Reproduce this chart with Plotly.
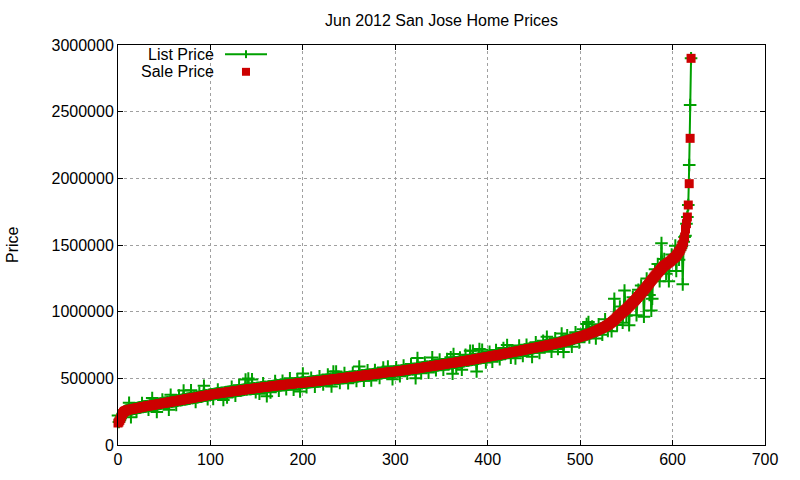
import plotly.graph_objects as go

# sale prices in thousands, sorted ascending (one per home, index = x)
sale_k = [
    165,172,185,200,218,235,246,252,256,259,262,263,265,266,268,269,270,272,273,275,
    276,277,279,280,282,283,285,286,288,289,290,291,293,294,295,296,298,299,300,302,
    303,304,305,306,308,309,310,311,312,314,315,316,317,318,320,321,322,323,325,326,
    328,329,330,331,332,334,335,336,337,338,340,341,342,343,345,346,347,348,350,351,
    352,353,355,356,357,358,359,360,362,363,365,366,367,368,370,371,372,373,375,376,
    378,379,380,381,382,383,384,385,386,387,388,389,390,391,392,393,394,395,396,397,
    398,399,400,401,402,403,404,405,406,407,408,409,410,411,412,413,414,415,416,417,
    418,419,420,421,421,422,423,424,425,426,427,428,429,430,430,431,432,433,434,435,
    435,436,437,438,439,440,440,441,442,443,444,445,446,447,448,449,449,450,451,452,
    452,453,454,455,455,456,457,458,459,459,460,461,462,462,463,464,464,465,466,466,
    466,467,468,469,469,470,471,472,473,474,475,475,476,477,478,479,479,480,481,482,
    482,483,484,485,486,487,488,489,489,490,491,492,493,494,495,495,496,497,498,499,
    500,501,502,503,503,504,505,506,507,508,509,510,510,511,512,513,514,514,515,515,
    516,517,518,519,520,521,522,523,524,525,525,526,527,528,529,530,531,532,533,533,
    534,535,536,537,538,539,540,541,542,543,544,545,545,546,547,548,549,549,550,550,
    551,552,553,554,555,556,557,558,559,560,561,562,563,564,565,566,567,568,569,569,
    570,571,572,573,575,576,577,578,579,580,581,582,583,585,586,587,588,589,590,591,
    592,593,594,595,596,598,599,600,601,602,603,604,605,606,608,609,610,611,612,612,
    613,614,615,616,618,619,620,621,622,624,625,626,627,628,629,630,631,632,634,635,
    636,637,638,640,641,642,643,645,646,647,648,650,651,652,654,655,656,658,659,660,
    662,663,664,665,667,668,669,670,672,673,674,675,677,678,679,680,682,683,685,686,
    688,689,690,692,693,694,696,697,698,700,701,702,703,705,706,707,709,710,712,713,
    715,716,717,719,720,721,723,724,725,727,728,729,731,732,733,735,736,737,739,740,
    742,743,745,746,748,749,750,752,753,755,756,758,759,761,762,764,765,767,769,770,
    772,773,775,777,779,781,783,785,787,789,791,793,795,797,799,801,803,805,807,810,
    812,814,816,818,820,823,825,828,830,833,836,838,841,844,847,849,852,855,858,861,
    865,868,871,874,877,881,884,888,892,896,900,905,910,915,920,926,932,938,944,952,
    960,966,972,978,984,990,996,1002,1008,1014,1020,1027,1034,1041,1048,1055,1062,1069,1076,1083,
    1090,1098,1106,1114,1122,1130,1138,1146,1154,1162,1170,1179,1188,1197,1206,1215,1224,1233,1242,1251,
    1260,1268,1276,1284,1292,1300,1308,1316,1324,1332,1340,1345,1350,1355,1360,1365,1370,1375,1380,1388,
    1395,1400,1405,1410,1420,1430,1440,1450,1460,1475,1490,1505,1525,1560,1620,1660,1710,1800,1960,2300,2900,
]

# homes whose list price visibly differs from the sale price (index, list - sale in thousands)
diff_idx = [0,12,14,20,26,33,37,42,48,55,57,63,66,71,79,84,88,93,97,103,108,114,118,123,127,131,
            138,141,145,149,153,157,161,165,170,174,178,182,186,190,194,197,200,204,209,213,218,222,
            227,231,233,236,240,245,249,254,258,261,266,270,274,278,283,287,292,297,301,305,309,313,
            317,322,324,328,332,336,340,344,348,352,356,360,362,363,366,370,372,376,381,384,388,391,
            394,398,402,405,409,413,417,421,425,430,434,438,442,448,452,456,460,464,469,473,476,480,
            482,486,491,495,499,503,507,509,510,513,517,520,524,527,530,534,537,540,543,546,548,550,
            553,557,561,563,566,569,572,575,577,578,581,584,586,588,591,593,596,599,603,604,607,611,
            614,618,619]
diff_k = [56,52,-60,-25,30,-30,53,-58,28,-56,54,-30,35,68,60,-35,30,76,-30,-35,30,-55,-40,35,-35,40,
          75,80,70,-30,-45,30,-70,-45,35,-40,30,-35,44,-45,30,-63,70,-35,30,-40,35,-30,
          40,-53,57,55,-35,35,-45,30,-35,71,-40,35,-45,30,-35,40,43,-55,30,-40,35,-30,
          40,-71,77,-40,35,-45,65,-35,40,-40,35,45,-81,67,-40,30,-62,45,70,65,-95,70,
          60,-40,35,-43,40,-35,45,61,-40,-51,40,-45,35,-64,40,-45,40,64,-55,40,-45,64,
          -77,40,-56,45,-40,50,80,90,-30,45,-56,40,-50,55,-45,-66,159,-60,60,-79,151,-50,
          -142,40,-125,50,58,-200,60,-90,-225,-145,50,65,-80,190,50,-70,-141,40,85,-115,-60,-300,
          -50,140,250]

homes = list(range(len(sale_k)))
sale_price = [v * 1000 for v in sale_k]
list_price = list(sale_price)
for i, d in zip(diff_idx, diff_k):
    list_price[i] = sale_price[i] + d * 1000

green = '#00a000'
red = '#cc0000'
fnt = 'Liberation Sans, Arial, sans-serif'

fig = go.Figure()
fig.add_trace(go.Scatter(
    x=homes, y=list_price, mode='lines+markers', name='List Price',
    line=dict(color=green, width=2),
    marker=dict(symbol='cross-thin', size=9, line=dict(color=green, width=2)),
    cliponaxis=False,
))
fig.add_trace(go.Scatter(
    x=homes, y=sale_price, mode='markers', name='Sale Price',
    marker=dict(symbol='square', size=9, color=red, line=dict(width=0)),
    cliponaxis=False,
))

# gnuplot style key: text right aligned, sample to the right
key_text_x = 0.1515
key_sample = (0.1654, 0.2303)
key_mid = 0.1978
key_y = [0.977, 0.933]
dx, dy = 0.0062, 0.0099
shapes = [
    dict(type='line', xref='paper', yref='paper', x0=key_sample[0], x1=key_sample[1], y0=key_y[0], y1=key_y[0],
         line=dict(color=green, width=2)),
    dict(type='line', xref='paper', yref='paper', x0=key_mid, x1=key_mid, y0=key_y[0] - dy, y1=key_y[0] + dy,
         line=dict(color=green, width=2)),
    dict(type='rect', xref='paper', yref='paper', x0=key_mid - dx, x1=key_mid + dx, y0=key_y[1] - dy, y1=key_y[1] + dy,
         fillcolor=red, line=dict(width=0)),
]
annotations = [
    dict(text=t, xref='paper', yref='paper', x=key_text_x, y=yy, xanchor='right', yanchor='middle',
         height=15, showarrow=False, font=dict(family=fnt, size=16, color='black'))
    for t, yy in zip(['List Price', 'Sale Price'], key_y)
]
annotations.append(dict(text='Price', xref='paper', yref='paper', x=-0.1638, y=0.5, textangle=-90,
                        xanchor='center', yanchor='middle', showarrow=False,
                        font=dict(family=fnt, size=16, color='black')))

axis_common = dict(
    showline=True, linecolor='black', linewidth=1, mirror='allticks',
    ticks='inside', ticklen=5, tickcolor='black', tickwidth=1,
    showgrid=True, gridcolor='#a0a0a0', gridwidth=1, griddash='dot',
    zeroline=False, tickfont=dict(family=fnt, size=16, color='black'),
)

fig.update_layout(
    width=800, height=480,
    margin=dict(l=118, r=35, t=45, b=31),
    paper_bgcolor='white', plot_bgcolor='white',
    showlegend=False,
    title=dict(text='Jun 2012 San Jose Home Prices', x=0.5, xref='paper', xanchor='center',
               y=0.958, yanchor='middle', yref='container',
               font=dict(family=fnt, size=16, color='black')),
    xaxis=dict(range=[0, 700], dtick=100, tick0=0, **axis_common),
    yaxis=dict(range=[0, 3000000], dtick=500000, tick0=0, tickformat='d', **axis_common),
    shapes=shapes,
    annotations=annotations,
)

# drop the default body margin so the 800x480 figure fills the window
fig.write_html('out.html', config={'displayModeBar': False},
               post_script="document.body.style.margin='0px';")
